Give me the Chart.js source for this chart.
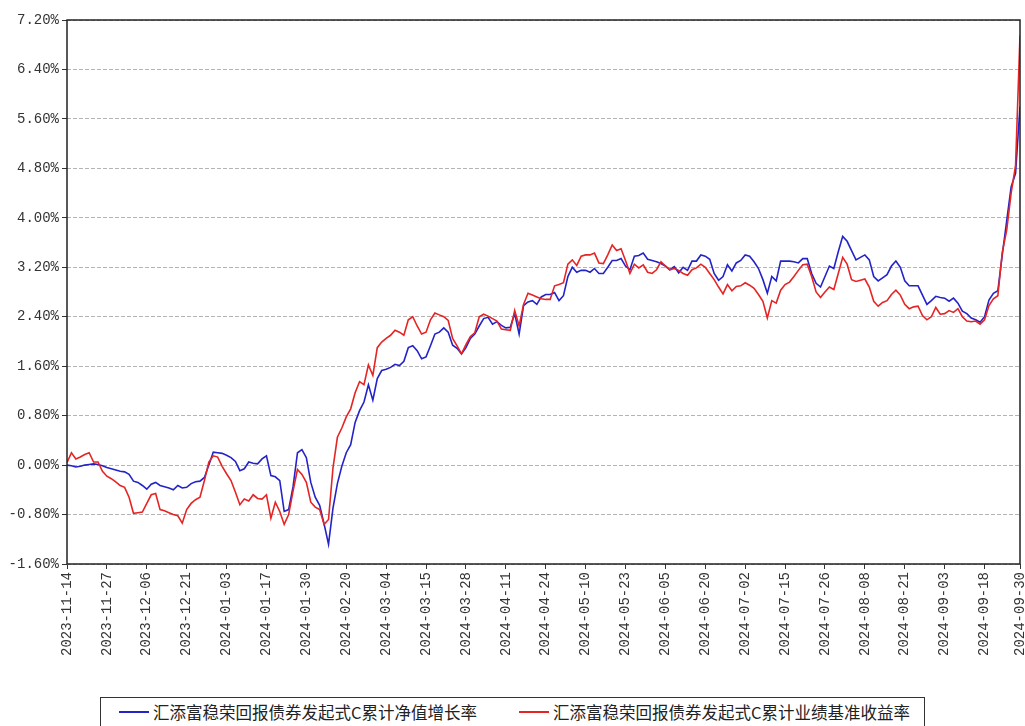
<!DOCTYPE html>
<html>
<head>
<meta charset="utf-8">
<script src="https://cdn.jsdelivr.net/npm/chart.js@4.4.1/dist/chart.umd.min.js"></script>
<style>
    body { margin: 0; background: #fff; }
    .wrap { position: relative; width: 1025px; height: 726px; overflow: hidden; }
    .chart-box { position: absolute; left: 0; top: 0; width: 1025px; height: 690px; }
    .legend {
        position: absolute; left: 100px; top: 697px; width: 825px; height: 30px;
        border: 1px solid #333; box-sizing: border-box;
        font-family: "Noto Sans CJK SC", sans-serif; font-size: 16.5px; color: #222;
    }
    .legend .item { position: absolute; top: 0; height: 28px; display: flex; align-items: center; white-space: nowrap; }
    .legend .swatch { width: 30px; height: 2px; margin-right: 4px; }
</style>
</head>
<body>
<div class="wrap">
    <div class="chart-box"><canvas id="chartCanvas"></canvas></div>
    <div class="legend" id="legend"></div>
</div>
<script>
// 累计净值增长率 (%) - 每个交易日一个点
const navGrowth = [
    0.00, -0.01, -0.03, -0.02, 0.00, 0.01, 0.02, 0.01, -0.01, -0.04,
    -0.06, -0.08, -0.10, -0.11, -0.15, -0.26, -0.28, -0.33, -0.39, -0.31,
    -0.28, -0.33, -0.35, -0.37, -0.40, -0.33, -0.37, -0.36, -0.30, -0.27,
    -0.26, -0.20, 0.00, 0.21, 0.20, 0.19, 0.16, 0.12, 0.06, -0.09,
    -0.06, 0.05, 0.03, 0.02, 0.10, 0.15, -0.17, -0.19, -0.25, -0.75,
    -0.72, -0.35, 0.20, 0.25, 0.12, -0.28, -0.52, -0.65, -0.95, -1.28,
    -0.70, -0.30, -0.02, 0.20, 0.33, 0.69, 0.88, 1.02, 1.30, 1.05,
    1.40, 1.53, 1.55, 1.58, 1.63, 1.61, 1.68, 1.90, 1.93, 1.85,
    1.72, 1.75, 1.93, 2.12, 2.15, 2.22, 2.15, 1.94, 1.89, 1.80,
    1.90, 2.05, 2.12, 2.25, 2.37, 2.39, 2.28, 2.32, 2.26, 2.22,
    2.23, 2.45, 2.12, 2.58, 2.64, 2.66, 2.60, 2.72, 2.76, 2.76,
    2.79, 2.66, 2.74, 3.05, 3.20, 3.12, 3.15, 3.15, 3.12, 3.18,
    3.10, 3.10, 3.20, 3.31, 3.31, 3.34, 3.22, 3.16, 3.38, 3.39,
    3.43, 3.33, 3.31, 3.29, 3.26, 3.22, 3.16, 3.21, 3.11, 3.20,
    3.15, 3.30, 3.30, 3.40, 3.38, 3.33, 3.10, 2.99, 3.05, 3.24,
    3.14, 3.27, 3.31, 3.40, 3.38, 3.29, 3.18, 3.00, 2.78, 3.05,
    2.98, 3.30, 3.30, 3.30, 3.29, 3.27, 3.34, 3.34, 3.10, 2.94,
    2.88, 3.05, 3.22, 3.18, 3.45, 3.70, 3.62, 3.47, 3.32, 3.36,
    3.40, 3.32, 3.05, 2.98, 3.03, 3.08, 3.22, 3.30, 3.20, 2.98,
    2.90, 2.90, 2.90, 2.75, 2.60, 2.66, 2.73, 2.71, 2.70, 2.65,
    2.70, 2.62, 2.49, 2.45, 2.38, 2.35, 2.31, 2.40, 2.67, 2.78,
    2.82, 3.40, 3.95, 4.50, 4.72, 5.80
];

// 累计业绩基准收益率 (%)
const benchmarkGrowth = [
    0.04, 0.20, 0.10, 0.13, 0.17, 0.20, 0.05, 0.05, -0.10, -0.18,
    -0.22, -0.27, -0.33, -0.36, -0.52, -0.78, -0.77, -0.76, -0.62, -0.48,
    -0.46, -0.72, -0.74, -0.77, -0.80, -0.82, -0.94, -0.72, -0.62, -0.56,
    -0.52, -0.25, 0.05, 0.15, 0.13, -0.02, -0.14, -0.25, -0.44, -0.64,
    -0.55, -0.58, -0.48, -0.54, -0.55, -0.48, -0.86, -0.60, -0.75, -0.96,
    -0.80, -0.42, -0.07, -0.15, -0.28, -0.60, -0.68, -0.72, -0.96, -0.88,
    -0.05, 0.45, 0.60, 0.78, 0.91, 1.17, 1.35, 1.30, 1.62, 1.45,
    1.90, 1.99, 2.05, 2.10, 2.18, 2.15, 2.10, 2.35, 2.40, 2.25,
    2.12, 2.15, 2.35, 2.46, 2.43, 2.40, 2.34, 2.05, 1.93, 1.80,
    1.95, 2.08, 2.14, 2.40, 2.44, 2.41, 2.37, 2.33, 2.20, 2.19,
    2.18, 2.50, 2.25, 2.60, 2.78, 2.75, 2.72, 2.69, 2.68, 2.68,
    2.90, 2.92, 2.95, 3.25, 3.32, 3.23, 3.38, 3.40, 3.40, 3.43,
    3.27, 3.26, 3.40, 3.56, 3.47, 3.50, 3.31, 3.10, 3.25, 3.19,
    3.24, 3.12, 3.10, 3.16, 3.29, 3.22, 3.16, 3.18, 3.15, 3.10,
    3.07, 3.16, 3.19, 3.25, 3.20, 3.10, 3.00, 2.88, 2.77, 2.92,
    2.82, 2.89, 2.90, 2.95, 2.91, 2.86, 2.76, 2.65, 2.38, 2.66,
    2.62, 2.83, 2.92, 2.96, 3.05, 3.15, 3.24, 3.25, 3.05, 2.80,
    2.71, 2.80, 2.88, 2.84, 3.10, 3.36, 3.25, 3.00, 2.97, 2.99,
    3.01, 2.88, 2.65, 2.57, 2.63, 2.66, 2.76, 2.83, 2.75, 2.60,
    2.53, 2.56, 2.57, 2.42, 2.35, 2.40, 2.55, 2.44, 2.45, 2.50,
    2.47, 2.53, 2.40, 2.33, 2.32, 2.33, 2.28, 2.35, 2.58, 2.69,
    2.74, 3.44, 3.80, 4.40, 4.85, 6.95
];

// 横轴日期标签 (每 9 个交易日一个)
const tickLabels = [
    '2023-11-14', '2023-11-27', '2023-12-06', '2023-12-21', '2024-01-03',
    '2024-01-17', '2024-01-30', '2024-02-20', '2024-03-04', '2024-03-15',
    '2024-03-28', '2024-04-11', '2024-04-24', '2024-05-10', '2024-05-23',
    '2024-06-05', '2024-06-20', '2024-07-02', '2024-07-15', '2024-07-26',
    '2024-08-08', '2024-08-21', '2024-09-03', '2024-09-18', '2024-09-30'
];
const tickStep = 9;

const seriesNames = [
    '汇添富稳荣回报债券发起式C累计净值增长率',
    '汇添富稳荣回报债券发起式C累计业绩基准收益率'
];
const seriesColors = ['#2323c8', '#e52424'];

const lastIdx = navGrowth.length - 1;
const toPoints = (arr) => arr.map((v, i) => ({ x: i, y: v }));

// 绘图区外框
const framePlugin = {
    id: 'frame',
    afterDraw(chart) {
        const { ctx, chartArea: a } = chart;
        ctx.save();
        ctx.strokeStyle = '#222';
        ctx.lineWidth = 1.5;
        ctx.strokeRect(a.left, a.top, a.right - a.left, a.bottom - a.top);
        ctx.restore();
    }
};

const monoFont = { family: '"Liberation Mono", monospace', size: 14 };

new Chart(document.getElementById('chartCanvas'), {
    type: 'line',
    data: {
        datasets: [
            {
                label: seriesNames[1],
                data: toPoints(benchmarkGrowth),
                borderColor: seriesColors[1],
                borderWidth: 1.6,
                pointRadius: 0,
                tension: 0
            },
            {
                label: seriesNames[0],
                data: toPoints(navGrowth),
                borderColor: seriesColors[0],
                borderWidth: 1.6,
                pointRadius: 0,
                tension: 0
            }
        ]
    },
    options: {
        responsive: true,
        maintainAspectRatio: false,
        animation: false,
        layout: { padding: { top: 20, right: 5, left: 0, bottom: 0 } },
        plugins: {
            legend: { display: false },
            tooltip: { enabled: false }
        },
        scales: {
            x: {
                type: 'linear',
                min: 0,
                max: lastIdx,
                afterBuildTicks: (scale) => {
                    scale.ticks = tickLabels.map((_, k) => ({ value: Math.min(k * tickStep, lastIdx) }));
                },
                afterFit: (scale) => {
                    scale.height = 126;
                    scale.paddingLeft = 0;
                    scale.paddingRight = 0;
                },
                ticks: {
                    autoSkip: false,
                    minRotation: 90,
                    maxRotation: 90,
                    padding: 3,
                    color: '#333',
                    font: monoFont,
                    callback: (value, index) => tickLabels[index]
                },
                grid: {
                    drawOnChartArea: false,
                    drawTicks: true,
                    tickLength: 5,
                    tickColor: '#333',
                    tickBorderDash: []
                },
                border: { display: false }
            },
            y: {
                min: -1.6,
                max: 7.2,
                afterFit: (scale) => { scale.width = 67; },
                ticks: {
                    stepSize: 0.8,
                    padding: 3,
                    color: '#333',
                    font: monoFont,
                    callback: (value) => value.toFixed(2) + '%'
                },
                grid: {
                    color: '#b4b4b4',
                    lineWidth: 1,
                    tickLength: 5,
                    tickColor: '#333',
                    tickBorderDash: []
                },
                border: { display: false, dash: [4, 2] }
            }
        }
    },
    plugins: [framePlugin]
});

// 图例
const legendEl = document.getElementById('legend');
const legendLeft = [18, 418];
seriesNames.forEach((name, i) => {
    const item = document.createElement('div');
    item.className = 'item';
    item.style.left = legendLeft[i] + 'px';
    item.innerHTML = '<span class="swatch" style="background:' + seriesColors[i] + '"></span><span>' + name + '</span>';
    legendEl.appendChild(item);
});
</script>
</body>
</html>
